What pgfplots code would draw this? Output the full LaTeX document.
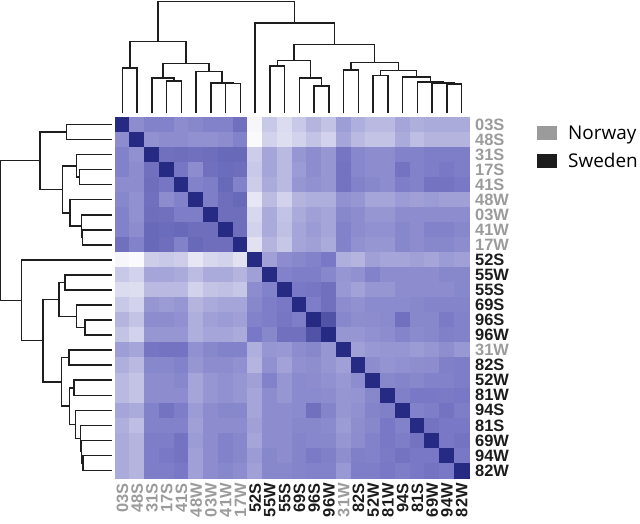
\documentclass[border=0pt]{standalone}
\usepackage{fontspec}
\setmainfont{Liberation Sans}
\newfontfamily\legfont{Open Sans}
\usepackage{pgfplots}
\usepackage{pgfplotstable}
\pgfplotsset{compat=1.18}
\definecolor{nor}{RGB}{155,155,155}
\definecolor{swe}{RGB}{28,28,28}
\definecolor{dendro}{RGB}{30,30,30}
\newcommand{\nl}[1]{\textcolor{nor}{#1}}
\newcommand{\sw}[1]{\textcolor{swe}{#1}}

% distance level per pair, rows/cols in dendrogram order
\pgfplotstableread{
03S 48S 31S 17S 41S 48W 03W 41W 17W 52S 55W 55S 69S 96S 96W 31W 82S 52W 81W 94S 81S 69W 94W 82W
40 140 130 130 140 135 130 130 112 246 200 220 200 180 195 158 175 185 185 165 175 170 170 170
140 40 145 140 140 145 145 140 130 250 210 222 210 195 210 165 185 195 195 170 190 180 180 180
130 145 40 112 110 112 110 105 105 205 165 185 150 140 150 117 135 140 140 130 130 125 125 125
130 140 112 40 118 140 112 108 110 200 165 185 155 140 150 115 135 140 140 115 130 125 120 125
140 140 110 118 40 130 125 105 130 205 170 185 150 145 150 115 130 135 140 125 130 115 115 120
135 145 112 140 130 40 125 110 105 230 188 210 180 175 175 145 150 165 165 155 160 155 160 160
130 145 110 112 125 125 40 110 110 215 170 195 170 160 165 135 140 150 150 140 140 140 140 140
130 140 105 108 105 110 110 40 110 210 170 192 165 155 165 130 140 145 145 135 140 130 130 135
112 130 105 110 130 105 110 110 40 225 180 198 165 160 170 130 145 150 150 135 140 135 135 140
246 250 205 200 205 230 215 210 225 40 160 140 135 130 120 175 180 160 165 165 160 165 155 160
200 210 165 165 170 188 170 170 180 160 40 130 125 125 135 150 145 130 140 140 140 140 135 135
220 222 185 185 185 210 195 192 198 140 130 40 120 118 112 152 162 150 150 140 140 140 140 135
200 210 150 155 150 180 170 165 165 135 125 120 40 125 112 140 145 138 138 138 135 132 132 132
180 195 140 140 145 175 160 155 160 130 125 118 125 40 82 135 142 140 138 112 135 135 122 130
195 210 150 150 150 175 165 165 170 120 135 112 112 82 40 150 150 145 140 132 138 135 128 130
158 165 117 115 115 145 135 130 130 175 150 152 140 135 150 40 160 152 150 150 155 150 142 152
175 185 135 135 130 150 140 140 145 180 145 162 145 142 150 160 40 140 148 145 142 140 128 125
185 195 140 140 135 165 150 145 150 160 130 150 138 140 145 152 140 40 135 132 135 130 130 125
185 195 140 140 140 165 150 145 150 165 140 150 138 138 140 150 148 135 40 128 120 120 122 120
165 170 130 115 125 155 140 135 135 165 140 140 138 112 132 150 145 132 128 40 130 125 115 125
175 190 130 130 130 160 140 140 140 160 140 140 135 135 138 155 142 135 120 130 40 115 120 120
170 180 125 125 115 155 140 130 135 165 140 140 132 135 135 150 140 130 120 125 115 40 120 115
170 180 125 120 115 160 140 130 135 155 135 140 132 122 128 142 128 130 122 115 120 120 40 120
170 180 125 125 120 160 140 135 140 160 135 135 132 130 130 152 125 125 120 125 120 115 120 40
}\dist

% dendrogram links: leaf position, merge height
\pgfplotstableread{
pos h
1 0
1 45
2 45
2 0
nan nan
4 0
4 32
5 32
5 0
nan nan
3 0
3 35
4.5 35
4.5 32
nan nan
8 0
8 29.3
9 29.3
9 0
nan nan
7 0
7 30.2
8.5 30.2
8.5 29.3
nan nan
6 0
6 41.5
7.75 41.5
7.75 30.2
nan nan
3.75 35
3.75 49.3
6.875 49.3
6.875 41.5
nan nan
1.5 45
1.5 71.5
5.313 71.5
5.313 49.3
nan nan
11 0
11 46.8
12 46.8
12 0
nan nan
14 0
14 26.8
15 26.8
15 0
nan nan
13 0
13 35.2
14.5 35.2
14.5 26.8
nan nan
11.5 46.8
11.5 52.5
13.75 52.5
13.75 35.2
nan nan
16 0
16 42.8
17 42.8
17 0
nan nan
18 0
18 37.5
19 37.5
19 0
nan nan
23 0
23 28.8
24 28.8
24 0
nan nan
22 0
22 30.2
23.5 30.2
23.5 28.8
nan nan
21 0
21 31.2
22.75 31.2
22.75 30.2
nan nan
20 0
20 36
21.875 36
21.875 31.2
nan nan
18.5 37.5
18.5 42.3
20.938 42.3
20.938 36
nan nan
16.5 42.8
16.5 50.3
19.719 50.3
19.719 42.3
nan nan
12.625 52.5
12.625 68.5
18.109 68.5
18.109 50.3
nan nan
10 0
10 90
15.367 90
15.367 68.5
nan nan
3.406 71.5
3.406 111.5
12.684 111.5
12.684 90
}\dend

\begin{document}
\begin{tikzpicture}
\useasboundingbox (0,0) rectangle (640bp,-524bp);

% heatmap
\begin{axis}[
    at={(115bp,-117bp)}, anchor=north west,
    scale only axis, width=354bp, height=361bp,
    xmin=0.5, xmax=24.5, ymin=0.5, ymax=24.5,
    axis line style={draw=none}, major tick length=0pt,
    xtick={1,...,24}, ytick={1,...,24},
    xticklabels={\nl{03S},\nl{48S},\nl{31S},\nl{17S},\nl{41S},\nl{48W},\nl{03W},\nl{41W},\nl{17W},
      \sw{52S},\sw{55W},\sw{55S},\sw{69S},\sw{96S},\sw{96W},\nl{31W},
      \sw{82S},\sw{52W},\sw{81W},\sw{94S},\sw{81S},\sw{69W},\sw{94W},\sw{82W}},
    yticklabels={\sw{82W},\sw{94W},\sw{69W},\sw{81S},\sw{94S},\sw{81W},\sw{52W},\sw{82S},
      \nl{31W},\sw{96W},\sw{96S},\sw{69S},\sw{55S},\sw{55W},\sw{52S},
      \nl{17W},\nl{41W},\nl{03W},\nl{48W},\nl{41S},\nl{17S},\nl{31S},\nl{48S},\nl{03S}},
    yticklabel pos=right,
    ticklabel style={font=\bfseries\fontsize{16.5}{16.5}\selectfont, inner sep=0pt},
    xticklabel style={rotate=90, anchor=east},
    yticklabel style={anchor=west},
    xticklabel shift=5bp, yticklabel shift=6bp,
    colormap={dist}{rgb255(0cm)=(38,42,130) rgb255(8cm)=(120,120,198) rgb255(21cm)=(250,250,253)},
    point meta min=40, point meta max=250,
    legend image code/.code={\fill[#1] (0bp,-7bp) rectangle (20bp,7bp); \path (31bp,0bp);},
    legend style={draw=none, fill=none, at={(1.192,0.977)}, anchor=north west,
      inner sep=0pt, row sep=13bp,
      nodes={inner sep=0pt, font=\legfont\fontsize{19}{19}\selectfont}},
    legend cell align=left,
]
\addlegendimage{fill=nor, draw=none}
\addlegendentry{Norway}
\addlegendimage{fill=swe, draw=none}
\addlegendentry{Sweden}
\pgfplotsinvokeforeach{0,...,23}{
  \addplot[forget plot, scatter, only marks, mark=square*, mark size=7.52bp,
    scatter/use mapped color={draw=mapped color, fill=mapped color},
    point meta=explicit]
    table[x expr=#1+1, y expr=24-\coordindex, meta index=#1] {\dist};
}
\end{axis}

% top dendrogram
\begin{axis}[
    at={(115bp,-113bp)}, anchor=south west,
    scale only axis, width=354bp, height=112bp,
    xmin=0.5, xmax=24.5, ymin=0, ymax=112,
    hide axis, clip=false, unbounded coords=jump,
]
\addplot[dendro, line width=1.5bp] table[x=pos, y=h] {\dend};
\end{axis}

% left dendrogram
\begin{axis}[
    at={(111.7bp,-117bp)}, anchor=north east,
    scale only axis, width=111bp, height=361bp,
    xmin=0, xmax=111, x dir=reverse,
    ymin=0.5, ymax=24.5, y dir=reverse,
    hide axis, clip=false, unbounded coords=jump,
]
\addplot[dendro, line width=1.5bp] table[x=h, y=pos] {\dend};
\end{axis}
\end{tikzpicture}
\end{document}
